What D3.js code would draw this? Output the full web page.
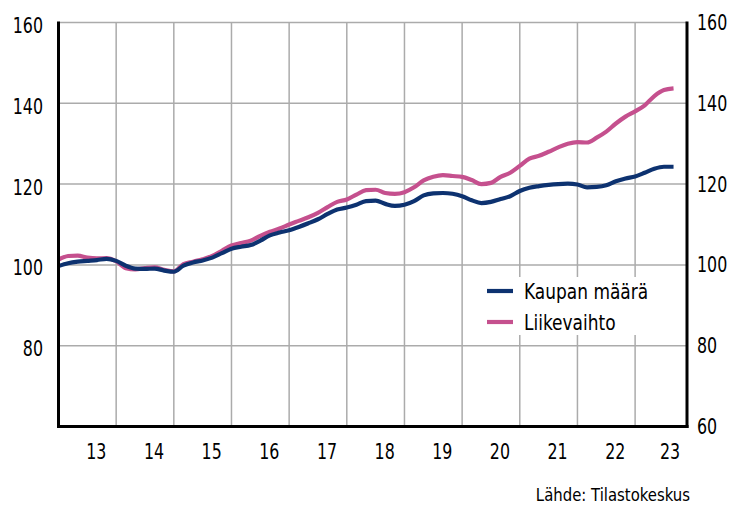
<!DOCTYPE html>
<html>
<head>
<meta charset="utf-8">
<script src="https://cdn.jsdelivr.net/npm/d3@7"></script>
<style>
  html, body { margin: 0; padding: 0; background: #fff; }
  svg text { font-family: "DejaVu Sans Condensed", "Liberation Sans", sans-serif; fill: #000; }
</style>
</head>
<body>
<svg id="chart" width="738" height="507"></svg>
<script>
// Trend series, index, every second month from January 2013 to September 2023
const startYear = 2013;
const stepMonths = 2;
const kaupanMaara = [
  99.7, 100.4, 100.8, 101.0, 101.2, 101.5,
  101.0, 99.8, 99.1, 99.0, 99.1, 98.6,
  98.3, 99.8, 100.6, 101.1, 101.8, 102.9,
  104.0, 104.5, 104.9, 106.0, 107.3, 108.0,
  108.6, 109.4, 110.3, 111.3, 112.6, 113.7,
  114.2, 114.9, 115.8, 115.9, 115.1, 114.6,
  114.9, 115.8, 117.2, 117.7, 117.8, 117.6,
  117.0, 116.0, 115.3, 115.6, 116.3, 117.0,
  118.3, 119.1, 119.5, 119.8, 120.0, 120.1,
  119.9, 119.2, 119.3, 119.7, 120.7, 121.4,
  121.9, 122.8, 123.8, 124.3, 124.3
];
const liikevaihto = [
  101.3, 102.2, 102.3, 101.8, 101.6, 101.7,
  100.9, 99.2, 98.9, 99.2, 99.4, 98.8,
  98.4, 100.2, 100.8, 101.4, 102.2, 103.5,
  104.8, 105.4, 106.0, 107.2, 108.2, 109.0,
  110.0, 110.9, 111.8, 112.9, 114.3, 115.6,
  116.2, 117.4, 118.5, 118.6, 117.8, 117.6,
  118.0, 119.2, 120.9, 121.8, 122.2, 122.0,
  121.8, 121.0, 120.0, 120.3, 121.8, 122.8,
  124.5, 126.3, 127.0, 128.0, 129.1, 130.0,
  130.4, 130.3, 131.5, 133.0, 135.0, 136.7,
  138.0, 139.5, 141.8, 143.3, 143.7
];
const yearTicks = [2013, 2014, 2015, 2016, 2017, 2018, 2019, 2020, 2021, 2022, 2023];
const yearLabels = ["13", "14", "15", "16", "17", "18", "19", "20", "21", "22", "23"];
const leftTicks = [80, 100, 120, 140, 160];
const rightTicks = [60, 80, 100, 120, 140, 160];
const seriesNames = ["Kaupan määrä", "Liikevaihto"];
const seriesColors = ["#0d3270", "#c5508e"];
const sourceText = "Lähde: Tilastokeskus";

const svg = d3.select("#chart");
const plotL = 58.5, plotR = 687, plotT = 22.5, plotB = 426.5;
const xDomain = [2013, 2023.9];

const x = d3.scaleLinear().domain(xDomain).range([plotL, plotR]);
const y = d3.scaleLinear().domain([60, 160]).range([plotB, plotT]);

const toTime = i => startYear + i * stepMonths / 12;

// places horizontally condensed text with its anchor at (px, py)
function putText(sel, px, py, squeeze) {
  return sel.attr("x", 0).attr("y", 0)
    .attr("transform", (d, i) => {
      const tx = typeof px === "function" ? px(d, i) : px;
      const ty = typeof py === "function" ? py(d, i) : py;
      return `translate(${tx},${ty}) scale(${squeeze},1)`;
    });
}

// horizontal grid
svg.append("g").selectAll("line").data(leftTicks).join("line")
  .attr("x1", plotL).attr("x2", plotR)
  .attr("y1", d => y(d)).attr("y2", d => y(d))
  .attr("stroke", "#ababab").attr("stroke-width", 1.5);

// vertical grid at year boundaries
svg.append("g").selectAll("line").data(yearTicks.slice(1)).join("line")
  .attr("x1", d => x(d)).attr("x2", d => x(d))
  .attr("y1", plotT).attr("y2", plotB)
  .attr("stroke", "#ababab").attr("stroke-width", 1.5);

// series lines
const line = d3.line()
  .x((d, i) => x(toTime(i)))
  .y(d => y(d))
  .curve(d3.curveMonotoneX);

[[liikevaihto, seriesColors[1]], [kaupanMaara, seriesColors[0]]].forEach(([vals, col]) => {
  svg.append("path").datum(vals)
    .attr("d", line)
    .attr("fill", "none")
    .attr("stroke", col)
    .attr("stroke-width", 4.2)
    .attr("stroke-linejoin", "round")
    .attr("stroke-linecap", "butt");
});

// frame axes
const axisG = svg.append("g").attr("stroke", "#000").attr("stroke-width", 3);
axisG.append("line").attr("x1", plotL).attr("x2", plotL).attr("y1", plotT - 1).attr("y2", plotB + 1.5);
axisG.append("line").attr("x1", plotR).attr("x2", plotR).attr("y1", plotT - 1).attr("y2", plotB + 1.5);
axisG.append("line").attr("x1", plotL - 1.5).attr("x2", plotR + 1.5).attr("y1", plotB).attr("y2", plotB);

// left tick labels
putText(svg.append("g").selectAll("text").data(leftTicks).join("text"), 43, d => y(d) + 10.5, 0.84)
  .attr("text-anchor", "end")
  .attr("font-size", 21)
  .text(d => d);

// right tick labels
putText(svg.append("g").selectAll("text").data(rightTicks).join("text"), 697, d => y(d) + 7.5, 0.84)
  .attr("text-anchor", "start")
  .attr("font-size", 21)
  .text(d => d);

// year labels, centred on the visible part of each year
putText(svg.append("g").selectAll("text").data(yearTicks).join("text"), d => {
    const a = Math.max(d, xDomain[0]);
    const b = Math.min(d + 1, xDomain[1]);
    return x((a + b) / 2) + 9;
  }, 459, 0.84)
  .attr("text-anchor", "middle")
  .attr("font-size", 21)
  .text((d, i) => yearLabels[i]);

// legend
const legend = svg.append("g");
legend.append("rect")
  .attr("x", 480).attr("y", 277).attr("width", 182).attr("height", 58)
  .attr("fill", "#fff");
seriesNames.forEach((name, i) => {
  const ly = 291 + i * 31;
  legend.append("line")
    .attr("x1", 487).attr("x2", 513)
    .attr("y1", ly).attr("y2", ly)
    .attr("stroke", seriesColors[i]).attr("stroke-width", 4.2);
  putText(legend.append("text"), 524, ly + 7.5, 0.9)
    .attr("font-size", 21)
    .text(name);
});

// source
putText(svg.append("text"), 690, 501, 0.92)
  .attr("text-anchor", "end")
  .attr("font-size", 18)
  .text(sourceText);
</script>
</body>
</html>
